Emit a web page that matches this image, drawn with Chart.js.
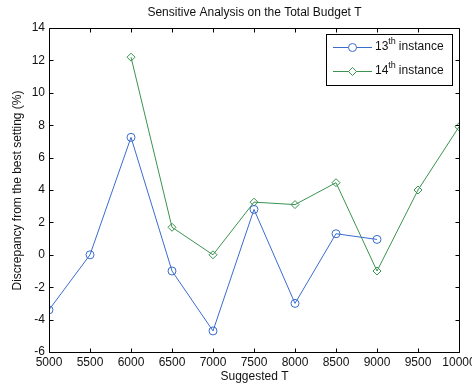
<!DOCTYPE html>
<html>
<head>
<meta charset="utf-8">
<script src="https://cdn.jsdelivr.net/npm/chart.js@4"></script>
<style>
  html, body { margin: 0; padding: 0; background: #fff; overflow: hidden; }
  #wrap { width: 472px; height: 385px; }
  canvas { display: block; }
</style>
</head>
<body>
<div id="wrap"><canvas id="myChart" width="472" height="385"></canvas></div>
<script>
const budgets = [5000, 5500, 6000, 6500, 7000, 7500, 8000, 8500, 9000, 9500, 10000];
const inst13 = [-3.4, 0, 7.25, -1.0, -4.7, 2.8, -3.0, 1.3, 0.95, null, null];
const inst14 = [null, null, 12.2, 1.7, 0, 3.25, 3.1, 4.45, -1.0, 4.0, 7.9];
const yTicks = [-6, -4, -2, 0, 2, 4, 6, 8, 10, 12, 14];

const blue = "#3a6ccf";
const green = "#3a9350";
const font = "Liberation Sans, Arial, sans-serif";

// matlab style frame: box, inward ticks, title, axis labels, legend
const matlabFrame = {
  id: "matlabFrame",
  afterDraw(chart) {
    const c = chart.ctx;
    const xs = chart.scales.x, ys = chart.scales.y;
    const left = Math.round(xs.getPixelForValue(5000)) + 0.5;
    const right = Math.round(xs.getPixelForValue(10000)) + 0.5;
    const top = Math.round(ys.getPixelForValue(14)) + 0.5;
    const bottom = Math.round(ys.getPixelForValue(-6)) + 0.5;
    c.save();
    c.strokeStyle = "#000";
    c.lineWidth = 1;
    const seg = (x1, y1, x2, y2) => { c.beginPath(); c.moveTo(x1, y1); c.lineTo(x2, y2); c.stroke(); };
    seg(left, top, right, top);
    seg(left, bottom, right, bottom);
    seg(left, top, left, bottom);
    seg(right, top, right, bottom);
    budgets.forEach(v => {
      const px = Math.round(xs.getPixelForValue(v)) + 0.5;
      seg(px, bottom, px, bottom - 4);
      seg(px, top, px, top + 4);
    });
    yTicks.forEach(v => {
      const py = Math.round(ys.getPixelForValue(v)) + 0.5;
      seg(left, py, left + 4, py);
      seg(right, py, right - 4, py);
    });

    c.fillStyle = "#111";
    c.font = "12px " + font;
    c.textAlign = "center";
    c.textBaseline = "middle";
    c.fillText("Sensitive Analysis on the Total Budget T", (left + right) / 2, 13);
    c.fillText("Suggested T", (left + right) / 2, 377);
    c.translate(18, (top + bottom) / 2);
    c.rotate(-Math.PI / 2);
    c.fillText("Discrepancy from the best setting (%)", 0, 0);
    c.restore();

    // legend
    c.save();
    c.fillStyle = "#fff";
    c.fillRect(326, 34, 127, 51);
    c.strokeStyle = "#000";
    c.strokeRect(326.5, 34.5, 126, 51);
    const rows = [
      { n: "13", color: blue, style: "circle", y: 47 },
      { n: "14", color: green, style: "rectRot", y: 71 }
    ];
    rows.forEach(r => {
      c.strokeStyle = r.color;
      c.lineWidth = 1;
      c.beginPath();
      c.moveTo(333, r.y + 0.5); c.lineTo(372, r.y + 0.5);
      c.stroke();
      c.fillStyle = "#fff";
      Chart.helpers.drawPoint(c, { pointStyle: r.style, radius: 4, borderWidth: 1 }, 352.5, r.y + 0.5);
      c.fillStyle = "#111";
      c.textAlign = "left";
      c.textBaseline = "middle";
      c.font = "12px " + font;
      let x = 375;
      c.fillText(r.n, x, r.y);
      x += c.measureText(r.n).width;
      c.font = "9px " + font;
      c.fillText("th", x, r.y - 5);
      x += c.measureText("th").width + 3;
      c.font = "12px " + font;
      c.fillText("instance", x, r.y);
    });
    c.restore();
  }
};

const ctx = document.getElementById("myChart");

new Chart(ctx, {
  type: "line",
  data: {
    labels: budgets,
    datasets: [{
      label: "13th instance",
      data: inst13,
      borderColor: blue,
      backgroundColor: "transparent",
      borderWidth: 1,
      pointStyle: "circle",
      pointRadius: 4,
      pointBorderColor: blue,
      pointBackgroundColor: "transparent",
      pointBorderWidth: 1,
      tension: 0
    }, {
      label: "14th instance",
      data: inst14,
      borderColor: green,
      backgroundColor: "transparent",
      borderWidth: 1,
      pointStyle: "rectRot",
      pointRadius: 4,
      pointBorderColor: green,
      pointBackgroundColor: "transparent",
      pointBorderWidth: 1,
      tension: 0
    }]
  },
  options: {
    responsive: false,
    animation: false,
    layout: { padding: { top: 28, right: 13, left: 0, bottom: 0 } },
    plugins: {
      legend: { display: false },
      title: { display: false },
      tooltip: { enabled: false }
    },
    scales: {
      x: {
        type: "linear",
        min: 5000,
        max: 10000,
        grid: { display: false, drawTicks: false },
        border: { display: false },
        ticks: {
          stepSize: 500,
          maxRotation: 0,
          autoSkip: false,
          color: "#111",
          padding: 3,
          font: { family: font, size: 12 },
          callback: v => String(v)
        },
        afterFit: s => { s.height = 33; s.paddingLeft = 0; s.paddingRight = 0; }
      },
      y: {
        min: -6,
        max: 14,
        grid: { display: false, drawTicks: false },
        border: { display: false },
        ticks: {
          stepSize: 2,
          color: "#111",
          padding: 4,
          font: { family: font, size: 12 }
        },
        afterFit: s => { s.width = 49; }
      }
    }
  },
  plugins: [matlabFrame]
});
</script>
</body>
</html>
